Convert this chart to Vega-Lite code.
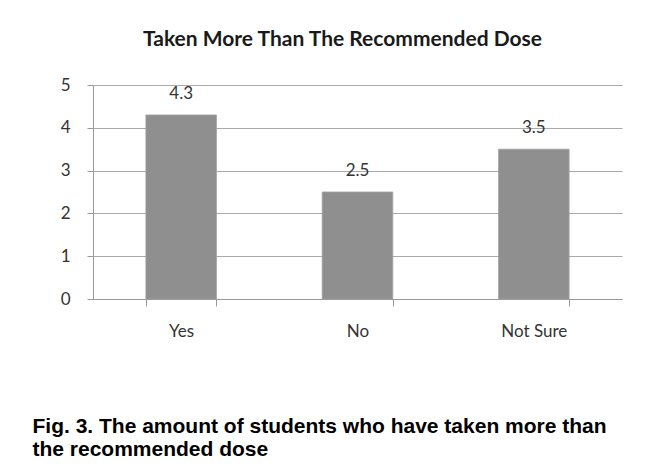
{
  "$schema": "https://vega.github.io/schema/vega-lite/v6.json",
  "autosize": {"type": "none"},
  "width": 529,
  "height": 214,
  "padding": {"left": 93, "top": 85, "right": 33, "bottom": 169},
  "background": "white",
  "title": {
    "text": "Taken More Than The Recommended Dose",
    "font": "Lato",
    "fontSize": 21,
    "fontWeight": "bold",
    "color": "#1a1a1a",
    "anchor": "middle",
    "dx": -15,
    "offset": 26
  },
  "data": {
    "values": [
      {"answer": "Yes", "value": 4.3},
      {"answer": "No", "value": 2.5},
      {"answer": "Not Sure", "value": 3.5}
    ]
  },
  "encoding": {
    "x": {
      "field": "answer",
      "type": "nominal",
      "sort": null,
      "scale": {"paddingInner": 0.6, "paddingOuter": 0.3},
      "axis": {
        "title": ["Fig. 3. The amount of students who have taken more than", "the recommended dose"],
        "titleFont": "Liberation Sans",
        "titleFontSize": 21,
        "titleFontWeight": "bold",
        "titleColor": "#000000",
        "titleAnchor": "start",
        "titleAlign": "left",
        "titleBaseline": "alphabetic",
        "titleX": -61,
        "titleY": 133,
        "titleLineHeight": 23,
        "labelAngle": 0,
        "labelFont": "Lato",
        "labelFontSize": 17,
        "labelColor": "#333333",
        "labelPadding": 17,
        "tickBand": "extent",
        "tickSize": 7,
        "tickColor": "#999999",
        "domainColor": "#999999",
        "grid": false
      }
    },
    "y": {
      "field": "value",
      "type": "quantitative",
      "scale": {"domain": [0, 5]},
      "axis": {
        "title": null,
        "values": [0, 1, 2, 3, 4, 5],
        "labelFont": "Lato",
        "labelFontSize": 17,
        "labelColor": "#333333",
        "labelPadding": 17,
        "tickSize": 6,
        "tickColor": "#999999",
        "domainColor": "#999999",
        "gridColor": "#aaaaaa",
        "grid": true
      }
    }
  },
  "layer": [
    {
      "mark": {"type": "bar", "color": "#8f8f8f", "stroke": "#a0a0a0", "strokeWidth": 0.8}
    },
    {
      "mark": {"type": "text", "font": "Lato", "fontSize": 17, "color": "#333333", "baseline": "alphabetic", "dy": -16},
      "encoding": {"text": {"field": "value", "type": "quantitative", "format": ".1f"}}
    }
  ],
  "config": {"view": {"stroke": null}}
}
